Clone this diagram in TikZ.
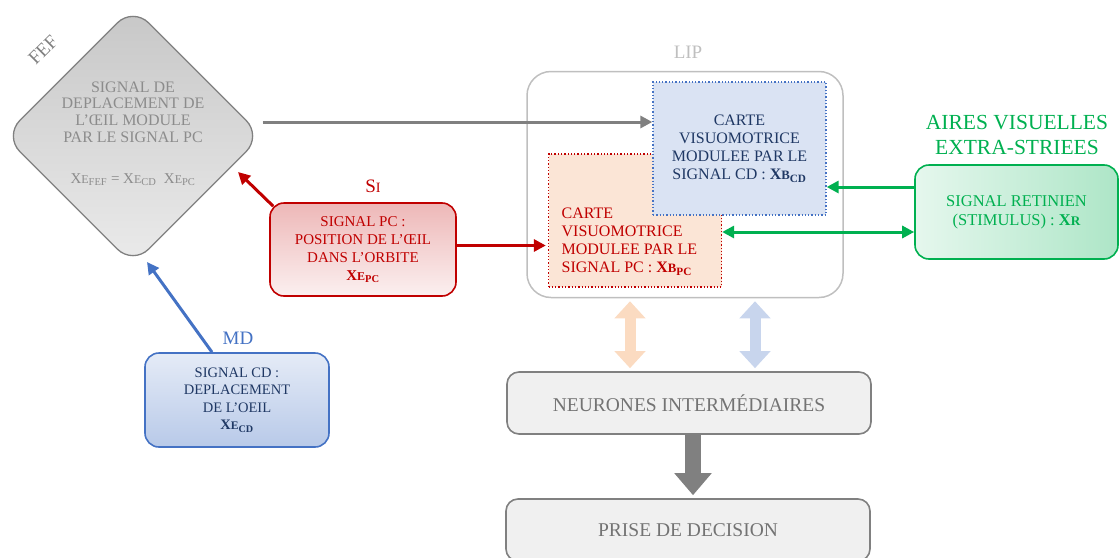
\documentclass[tikz,border=0pt]{standalone}
\usepackage{fontspec}
\setmainfont{Liberation Serif}
\usetikzlibrary{shapes.geometric, arrows.meta}

\definecolor{fefgray}{HTML}{8C8C8C}
\definecolor{pcred}{HTML}{C00000}
\definecolor{cdblue}{HTML}{4472C4}
\definecolor{navy}{HTML}{1F3864}
\definecolor{retgreen}{HTML}{00B050}
\definecolor{pcfill}{HTML}{FBE5D6}
\definecolor{cdfill}{HTML}{DAE3F3}

\newcommand{\xsig}[2]{X\scalebox{0.8}{#1}\textsubscript{#2}}

\begin{document}
\begin{tikzpicture}[x=1pt, y=-1pt,
		txt/.style={align=center, font=\fontsize{15}{18}\selectfont},
		fefbox/.style={diamond, aspect=1, rounded corners=22pt, draw=black!50, line width=1.3pt, top color=black!22, bottom color=black!8, minimum width=258pt, minimum height=258pt, inner sep=0pt},
		rbox/.style={rectangle, rounded corners=14pt, line width=1.6pt, txt, inner sep=2pt},
		pcbox/.style={rbox, draw=pcred, top color=pcred!28, bottom color=pcred!6, text=pcred, minimum width=186pt, minimum height=93pt},
		mdbox/.style={rbox, draw=cdblue, top color=cdblue!14, bottom color=cdblue!38, text=navy, font=\fontsize{14.5}{17.5}\selectfont, minimum width=184pt, minimum height=94pt},
		retbox/.style={rbox, draw=retgreen, left color=retgreen!10, right color=retgreen!32, text=retgreen, font=\fontsize{16.5}{19}\selectfont, minimum width=203pt, minimum height=94pt},
		lipbox/.style={rectangle, rounded corners=24pt, draw=black!25, line width=1.5pt, minimum width=316pt, minimum height=226pt},
		mapbox/.style={rectangle, dotted, line width=1.3pt, minimum width=173pt, minimum height=133pt, txt, font=\fontsize{16}{18}\selectfont},
		graybox/.style={rbox, rounded corners=12pt, draw=black!50, fill=black!6, text=black!55, font=\fontsize{19.5}{20}\selectfont, minimum width=364pt, minimum height=62pt},
		lbl/.style={font=\fontsize{19}{19}\selectfont},
		arr/.style={line width=3pt, -{Triangle[length=12pt, width=12pt]}},
		pale/.style={line width=11pt, {Triangle[length=17pt, width=30pt]}-{Triangle[length=17pt, width=30pt]}, shorten <=3pt, shorten >=3pt},
		]
		
		\useasboundingbox (0,0) rectangle (1119,557);
		
		%Nodes
		\node[fefbox]	(fef)	at (133,136)	{};
		\node[txt, text=fefgray, font=\fontsize{16}{16.8}\selectfont]	(feftxt)	at (133,112)	{SIGNAL DE\\DEPLACEMENT DE\\L’ŒIL MODULE\\PAR LE SIGNAL PC};
		\node[txt, text=fefgray]	(fefeq)	at (133,180)	{\xsig{E}{FEF} = \xsig{E}{CD}\ \ \xsig{E}{PC}};
		\node[lbl, rotate=45, text=black!50]	(feflbl)	at (43,50)	{FEF};
		
		\node[pcbox]	(pc)	at (363,249.5)	{SIGNAL PC :\\POSITION DE L’ŒIL\\DANS L’ORBITE\\\textbf{\xsig{E}{PC}}};
		\node[lbl, text=pcred]	(silbl)	at (373,186)	{S\scalebox{0.75}{I}};
		
		\node[mdbox]	(md)	at (237,400)	{SIGNAL CD :\\DEPLACEMENT\\DE L’OEIL\\\textbf{\xsig{E}{CD}}};
		\node[lbl, text=cdblue]	(mdlbl)	at (238,338)	{MD};
		
		\node[lipbox]	(lip)	at (685,184.5)	{};
		\node[lbl, text=black!25]	(liplbl)	at (688,52)	{LIP};
		\node[mapbox, draw=pcred, fill=pcfill]	(pcmap)	at (635,220.5)	{};
		\node[mapbox, draw=cdblue, fill=cdfill, text=navy]	(cdmap)	at (739.5,148.5)	{CARTE\\VISUOMOTRICE\\MODULEE PAR LE\\SIGNAL CD : \textbf{\xsig{B}{CD}}};
		\node[mapbox, draw=none, align=left, anchor=west, text=pcred, minimum width=0pt, minimum height=0pt, inner sep=0pt]	(pctxt)	at (561,242)	{CARTE\\VISUOMOTRICE\\MODULEE PAR LE\\SIGNAL PC : \textbf{\xsig{B}{PC}}};
		
		\node[retbox]	(ret)	at (1016.5,212)	{SIGNAL RETINIEN\\(STIMULUS) : \textbf{X\scalebox{0.8}{R}}};
		\node[txt, text=retgreen, font=\fontsize{21.5}{25}\selectfont]	(retlbl)	at (1017,135)	{AIRES VISUELLES\\EXTRA-STRIEES};
		
		\node[graybox]	(neur)	at (689,403)	{NEURONES INTERMÉDIAIRES};
		\node[graybox]	(dec)	at (688,530)	{PRISE DE DECISION};
		
		\coordinate	(fefpc)	at (238,172);
		\coordinate	(fefmd)	at (147,262);
		
		%Lines
		\draw[arr, draw=black!50, fill=black!50]	([yshift=14pt]fef.east) -- ([yshift=14pt]fef.east -| cdmap.west);
		\draw[arr, draw=pcred, fill=pcred]	([shift={(4pt,-4pt)}]pc.north west) -- (fefpc);
		\draw[arr, draw=pcred, fill=pcred, shorten >=2pt]	([yshift=4pt]pc.east) -- ([yshift=4pt]pc.east -| pcmap.west);
		\draw[arr, draw=cdblue, fill=cdblue]	([xshift=-25pt]md.north) -- (fefmd);
		
		\draw[arr, draw=retgreen, fill=retgreen]	([yshift=25pt]ret.west) -- ([yshift=25pt]ret.west -| cdmap.east);
		\draw[arr, {Triangle[length=12pt, width=12pt]}-{Triangle[length=12pt, width=12pt]}, draw=retgreen, fill=retgreen]	([yshift=-20pt]ret.west) -- ([yshift=-20pt]ret.west -| pcmap.east);
		
		\draw[pale, draw=pcfill!90!orange, fill=pcfill!90!orange]	([xshift=-5pt]pcmap.south |- lip.south) -- ([xshift=-5pt]pcmap.south |- neur.north);
		\draw[pale, draw=cdfill!88!cdblue, fill=cdfill!88!cdblue]	([xshift=15.5pt]cdmap.south |- lip.south) -- ([xshift=15.5pt]cdmap.south |- neur.north);
		\draw[line width=16pt, -{Triangle[length=22pt, width=36pt]}, draw=black!50, fill=black!50, shorten >=3pt]	([xshift=4pt]neur.south) -- ([xshift=4pt]neur.south |- dec.north);
		
\end{tikzpicture}
\end{document}
